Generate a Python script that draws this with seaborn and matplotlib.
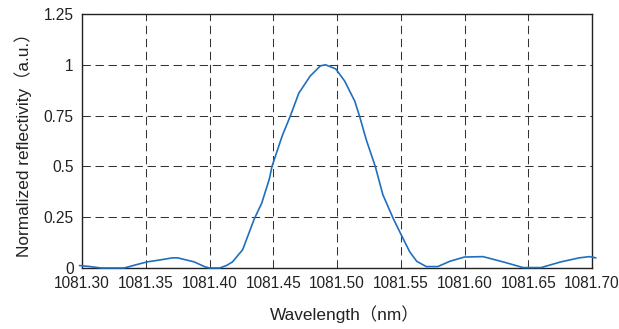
import matplotlib
matplotlib.use("Agg")
import matplotlib.pyplot as plt
import seaborn as sns
import pandas as pd

# Reflection spectrum of the grating
wavelength_nm = [
    1081.298, 1081.305, 1081.315, 1081.323, 1081.333, 1081.343, 1081.351,
    1081.3615, 1081.371, 1081.375, 1081.388, 1081.396, 1081.400, 1081.408,
    1081.4135, 1081.418, 1081.426, 1081.435, 1081.441, 1081.447, 1081.449,
    1081.457, 1081.4635, 1081.470, 1081.479, 1081.487, 1081.491, 1081.499,
    1081.506, 1081.514, 1081.518, 1081.523, 1081.530, 1081.536, 1081.544,
    1081.551, 1081.557, 1081.5625, 1081.570, 1081.579, 1081.5885, 1081.600,
    1081.6145, 1081.6315, 1081.646, 1081.660, 1081.6755, 1081.690, 1081.698,
    1081.703,
]
reflectivity = [
    0.012, 0.008, 0.0, 0.0, 0.0, 0.017, 0.03,
    0.04, 0.05, 0.05, 0.03, 0.007, 0.0, 0.0,
    0.013, 0.03, 0.09, 0.24, 0.32, 0.44, 0.50,
    0.65, 0.75, 0.86, 0.945, 0.995, 1.0, 0.98,
    0.92, 0.82, 0.74, 0.63, 0.50, 0.36, 0.245,
    0.155, 0.08, 0.033, 0.007, 0.007, 0.033, 0.054,
    0.056, 0.028, 0.002, 0.002, 0.03, 0.05, 0.056,
    0.05,
]

x_ticks = [1081.30, 1081.35, 1081.40, 1081.45, 1081.50, 1081.55, 1081.60, 1081.65, 1081.70]
x_tick_labels = ["1081.30", "1081.35", "1081.40", "1081.45", "1081.50",
                 "1081.55", "1081.60", "1081.65", "1081.70"]
y_ticks = [0, 0.25, 0.5, 0.75, 1, 1.25]
y_tick_labels = ["0", "0.25", "0.5", "0.75", "1", "1.25"]

sns.set_theme(style="white")
plt.rcParams["font.family"] = ["Liberation Sans", "Noto Sans CJK JP", "DejaVu Sans"]

df = pd.DataFrame({"wl": wavelength_nm, "r": reflectivity})

fig = plt.figure(figsize=(6.19, 3.29), dpi=100)
ax = fig.add_axes([0.1325, 0.1854, 0.8239, 0.772])

sns.lineplot(data=df, x="wl", y="r", ax=ax, color="#1f6fbf", linewidth=1.2,
             sort=False, clip_on=False, zorder=3)

ax.set_xlim(1081.30, 1081.70)
ax.set_ylim(0, 1.25)
ax.set_xticks(x_ticks)
ax.set_xticklabels(x_tick_labels)
ax.set_yticks(y_ticks)
ax.set_yticklabels(y_tick_labels)
ax.tick_params(axis="both", length=0, labelsize=11.2, colors="#222222", pad=6)

ax.grid(True, color="#333333", linestyle=(0, (8, 4.5)), linewidth=0.75)
for side in ["top", "right", "bottom", "left"]:
    ax.spines[side].set_visible(True)
    ax.spines[side].set_color("#222222")
    ax.spines[side].set_linewidth(1.0)

ax.set_xlabel("Wavelength（nm）", fontsize=12.4, color="#222222")
ax.xaxis.set_label_coords(0.515, -0.145)
ax.set_ylabel("Normalized reflectivity（a.u.）", fontsize=12.4, color="#222222", labelpad=8)

fig.savefig("out.png", dpi=100)
